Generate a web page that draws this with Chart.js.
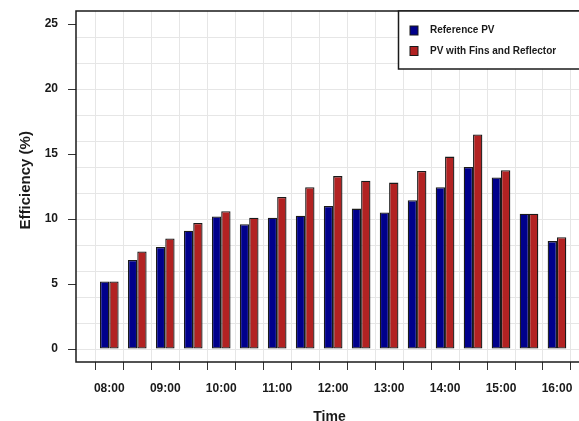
<!DOCTYPE html>
<html>
<head>
<meta charset="utf-8">
<script src="https://cdn.jsdelivr.net/npm/chart.js@4/dist/chart.umd.min.js"></script>
<style>
  html, body { margin: 0; padding: 0; background: #ffffff; }
  #wrap { width: 579px; height: 421px; overflow: hidden; position: relative; background: #fff; }
  canvas { display: block; }
</style>
</head>
<body>
<div id="wrap"><canvas id="c" width="600" height="430"></canvas></div>
<script>
// ---- data ----
const times = ['08:00','08:30','09:00','09:30','10:00','10:30','11:00','11:30','12:00',
               '12:30','13:00','13:30','14:00','14:30','15:00','15:30','16:00'];
const referencePV = [5.2, 6.85, 7.85, 9.1, 10.2, 9.6, 10.1, 10.25, 11.0,
                     10.8, 10.5, 11.45, 12.45, 14.0, 13.2, 10.4, 8.3];
const finsReflectorPV = [5.2, 7.5, 8.5, 9.7, 10.6, 10.1, 11.7, 12.45, 13.3,
                         12.95, 12.8, 13.7, 14.8, 16.5, 13.75, 10.4, 8.6];
const xTickLabels = ['08:00','09:00','10:00','11:00','12:00','13:00','14:00','15:00','16:00'];
const yTickValues = [0, 5, 10, 15, 20, 25];
const seriesNames = ['Reference PV', 'PV with Fins and Reflector'];

const FONT = '"Liberation Sans", Arial, Helvetica, sans-serif';
const BLUE = '#00008B';
const RED = '#B22222';
const GRID = '#e6e6e6';
const INK = '#1a1a1a';

const boxPlugin = {
  id: 'boxAndLegend',
  afterDraw(chart) {
    const {ctx, chartArea: a} = chart;
    ctx.save();
    // plot frame
    ctx.strokeStyle = INK;
    ctx.lineWidth = 1.5;
    ctx.strokeRect(a.left, a.top, a.right - a.left, a.bottom - a.top);
    // legend box
    const lx = 398.5, ly = a.top, lw = a.right - lx + 5, lh = 58;
    ctx.fillStyle = '#ffffff';
    ctx.fillRect(lx, ly, lw, lh);
    ctx.strokeRect(lx, ly, lw, lh);
    const ds = chart.data.datasets;
    const rows = [a.top + 19.5, a.top + 40];
    ds.forEach((d, i) => {
      const y = rows[i];
      ctx.fillStyle = d.backgroundColor;
      ctx.fillRect(410, y - 4.5, 8, 9);
      ctx.lineWidth = 1;
      ctx.strokeStyle = INK;
      ctx.strokeRect(410, y - 4.5, 8, 9);
      ctx.fillStyle = INK;
      ctx.font = 'bold 10px ' + FONT;
      ctx.textBaseline = 'middle';
      ctx.textAlign = 'left';
      ctx.fillText(d.label, 430, y);
    });
    ctx.restore();
  }
};

const evenGrid = [];
for (let v = 0; v <= 24; v += 2) evenGrid.push(v);

new Chart(document.getElementById('c'), {
  type: 'bar',
  data: {
    datasets: [
      {
        label: seriesNames[0],
        data: referencePV.map((v, i) => ({x: i, y: v})),
        backgroundColor: BLUE,
        borderColor: INK,
        borderWidth: 1.3,
        borderSkipped: false,
        categoryPercentage: 0.667,
        barPercentage: 1.0
      },
      {
        label: seriesNames[1],
        data: finsReflectorPV.map((v, i) => ({x: i, y: v})),
        backgroundColor: RED,
        borderColor: INK,
        borderWidth: 1.3,
        borderSkipped: false,
        categoryPercentage: 0.667,
        barPercentage: 1.0
      }
    ]
  },
  options: {
    responsive: false,
    devicePixelRatio: 1,
    animation: false,
    layout: { padding: { left: 0, top: 11, right: 17, bottom: 0 } },
    plugins: {
      legend: { display: false },
      tooltip: { enabled: false }
    },
    scales: {
      x: {
        type: 'linear',
        min: -1.19,
        max: 16.93,
        offset: false,
        afterFit(scale) { scale.height = 68; scale.paddingLeft = 0; scale.paddingRight = 0; },
        afterBuildTicks(axis) {
          axis.ticks = times.map((t, i) => ({value: i}));
        },
        border: { display: false },
        grid: {
          color: GRID,
          lineWidth: 1,
          drawTicks: true,
          tickLength: 8,
          tickColor: '#333',
          tickWidth: 1
        },
        ticks: {
          autoSkip: false,
          maxRotation: 0,
          minRotation: 0,
          padding: 11,
          color: INK,
          font: { family: FONT, size: 12, weight: 'bold' },
          callback(value) {
            const t = times[value];
            return xTickLabels.includes(t) ? t : '';
          }
        },
        title: {
          display: true,
          text: 'Time',
          color: INK,
          font: { family: FONT, size: 14, weight: 'bold' },
          padding: { top: 0, bottom: 4 }
        }
      },
      y: {
        min: -1,
        max: 26,
        afterFit(scale) { scale.width = 76; scale.paddingTop = 0; scale.paddingBottom = 0; },
        afterBuildTicks(axis) {
          const vals = Array.from(new Set(evenGrid.concat(yTickValues))).sort((a, b) => a - b);
          axis.ticks = vals.map(v => ({value: v}));
        },
        border: { display: false },
        grid: {
          color: ctx => (ctx.tick && ctx.tick.value % 2 === 0) ? GRID : 'rgba(0,0,0,0)',
          lineWidth: 1,
          drawTicks: true,
          tickLength: 8,
          tickColor: ctx => (ctx.tick && yTickValues.includes(ctx.tick.value)) ? '#333' : 'rgba(0,0,0,0)',
          tickWidth: 1
        },
        ticks: {
          autoSkip: false,
          padding: 10,
          color: INK,
          font: { family: FONT, size: 12, weight: 'bold' },
          callback(value) {
            return yTickValues.includes(value) ? String(value) : '';
          }
        },
        title: {
          display: true,
          text: '   Efficiency (%)',
          color: INK,
          font: { family: FONT, size: 15, weight: 'bold' },
          padding: { top: 17, bottom: 0 }
        }
      }
    }
  },
  plugins: [boxPlugin]
});
</script>
</body>
</html>
